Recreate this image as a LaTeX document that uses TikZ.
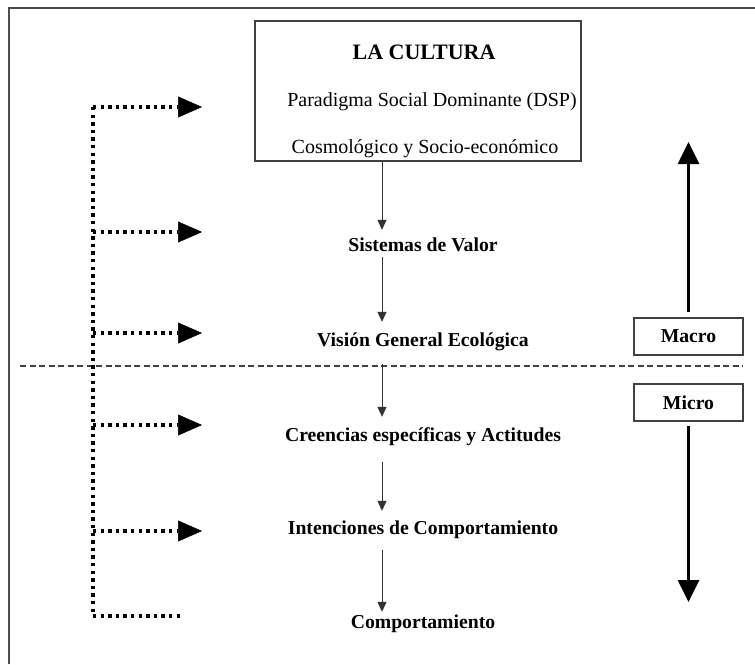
\documentclass[tikz,border=0pt]{standalone}
\usepackage{fontspec}
\setmainfont{Liberation Serif}
\usetikzlibrary{arrows.meta}
\begin{document}
\begin{tikzpicture}[x=1pt,y=-1pt,
  ink/.style={black!85},
  frameline/.style={draw=black!70,line width=1.4pt},
  lbl/.style={font=\fontsize{19.7}{22}\selectfont\bfseries,inner sep=0pt,text height=13pt,text depth=0pt,anchor=center},
  plain/.style={font=\fontsize{20}{23}\selectfont,inner sep=0pt,anchor=base},
  boxed/.style={draw=black!75,line width=1.3pt,minimum width=109pt,minimum height=37pt,inner sep=0pt,
    font=\fontsize{19.7}{22}\selectfont\bfseries},
  flow/.style={draw=black!80,line width=1pt,-{Triangle[length=10pt,width=9pt]}},
  dotline/.style={draw=black,line width=3.3pt,dash pattern=on 3.3pt off 4.3pt},
  dothead/.style={dotline,-{Triangle[length=24pt,width=21pt,line width=0.5pt]}},
  bigarrow/.style={draw=black,line width=2.7pt,-{Triangle[length=22pt,width=21pt]}},
  cutline/.style={draw=black!75,line width=1.2pt,dash pattern=on 6pt off 3.5pt}]
\useasboundingbox (0,0) rectangle (755,664);

% outer frame (top and left edges)
\draw[frameline] (9,664) -- (9,8) -- (755,8);

% culture box and its three lines of text
\node[draw=black!75,line width=1.3pt,minimum width=326pt,minimum height=140pt,inner sep=0pt]
  (cult) at (418,91) {};
\node[plain,font=\fontsize{22}{25}\selectfont\bfseries] (title) at (424,59.5) {LA CULTURA};
\node[plain] (dsp) at (432,106.5) {Paradigma Social Dominante (DSP)};
\node[plain] (cosmo) at (425,153.5) {Cosmológico y Socio-económico};

% levels of the chain
\node[lbl] (sis) at (423,245) {Sistemas de Valor};
\node[lbl] (vis) at (423,340) {Visión General Ecológica};
\node[lbl] (cre) at (423,435) {Creencias específicas y Actitudes};
\node[lbl] (int) at (423,528) {Intenciones de Comportamiento};
\node[lbl] (com) at (423,622) {Comportamiento};

% macro / micro divide
\coordinate (cl) at (20,366);
\coordinate (cr) at (743,366);
\draw[cutline] (cl) -- (cr);

% main causal chain
\coordinate (ax) at (382,0);
\coordinate (cut) at (382,364);
\draw[flow,shorten >=8.5pt] (cult.south -| ax) -- (sis.north -| ax);
\draw[flow,shorten <=5.5pt,shorten >=11.5pt] (sis.south -| ax) -- (vis.north -| ax);
\draw[flow,shorten >=11.5pt] (cut) -- (cre.north -| ax);
\draw[flow,shorten <=20.5pt,shorten >=10.5pt] (cre.south -| ax) -- (int.north -| ax);
\draw[flow,shorten <=15.5pt,shorten >=3.5pt] (int.south -| ax) -- (com.north -| ax);

% feedback line on the left
\coordinate (f0) at (93,107);
\coordinate (f1) at (93,232);
\coordinate (f2) at (93,333);
\coordinate (f3) at (93,425);
\coordinate (f4) at (93,531);
\coordinate (f5) at (93,616);
\coordinate (h0) at (202,107);
\coordinate (h1) at (202,232);
\coordinate (h2) at (202,333);
\coordinate (h3) at (202,425);
\coordinate (h4) at (202,531);
\coordinate (h5) at (184,616);
\draw[dotline] (f0) -- (f5);
\draw[dotline] (f5) -- (h5);
\foreach \i in {0,...,4} {\draw[dothead] (f\i) -- (h\i);}

% scale indicators
\node[boxed] (macro) at (688.5,336.5) {Macro};
\node[boxed] (micro) at (688.5,402.5) {Micro};
\coordinate (uptip) at (688.5,142);
\coordinate (dntip) at (688.5,602);
\draw[bigarrow,shorten <=5pt] (macro.north) -- (uptip);
\draw[bigarrow,shorten <=4pt] (micro.south) -- (dntip);
\end{tikzpicture}
\end{document}
